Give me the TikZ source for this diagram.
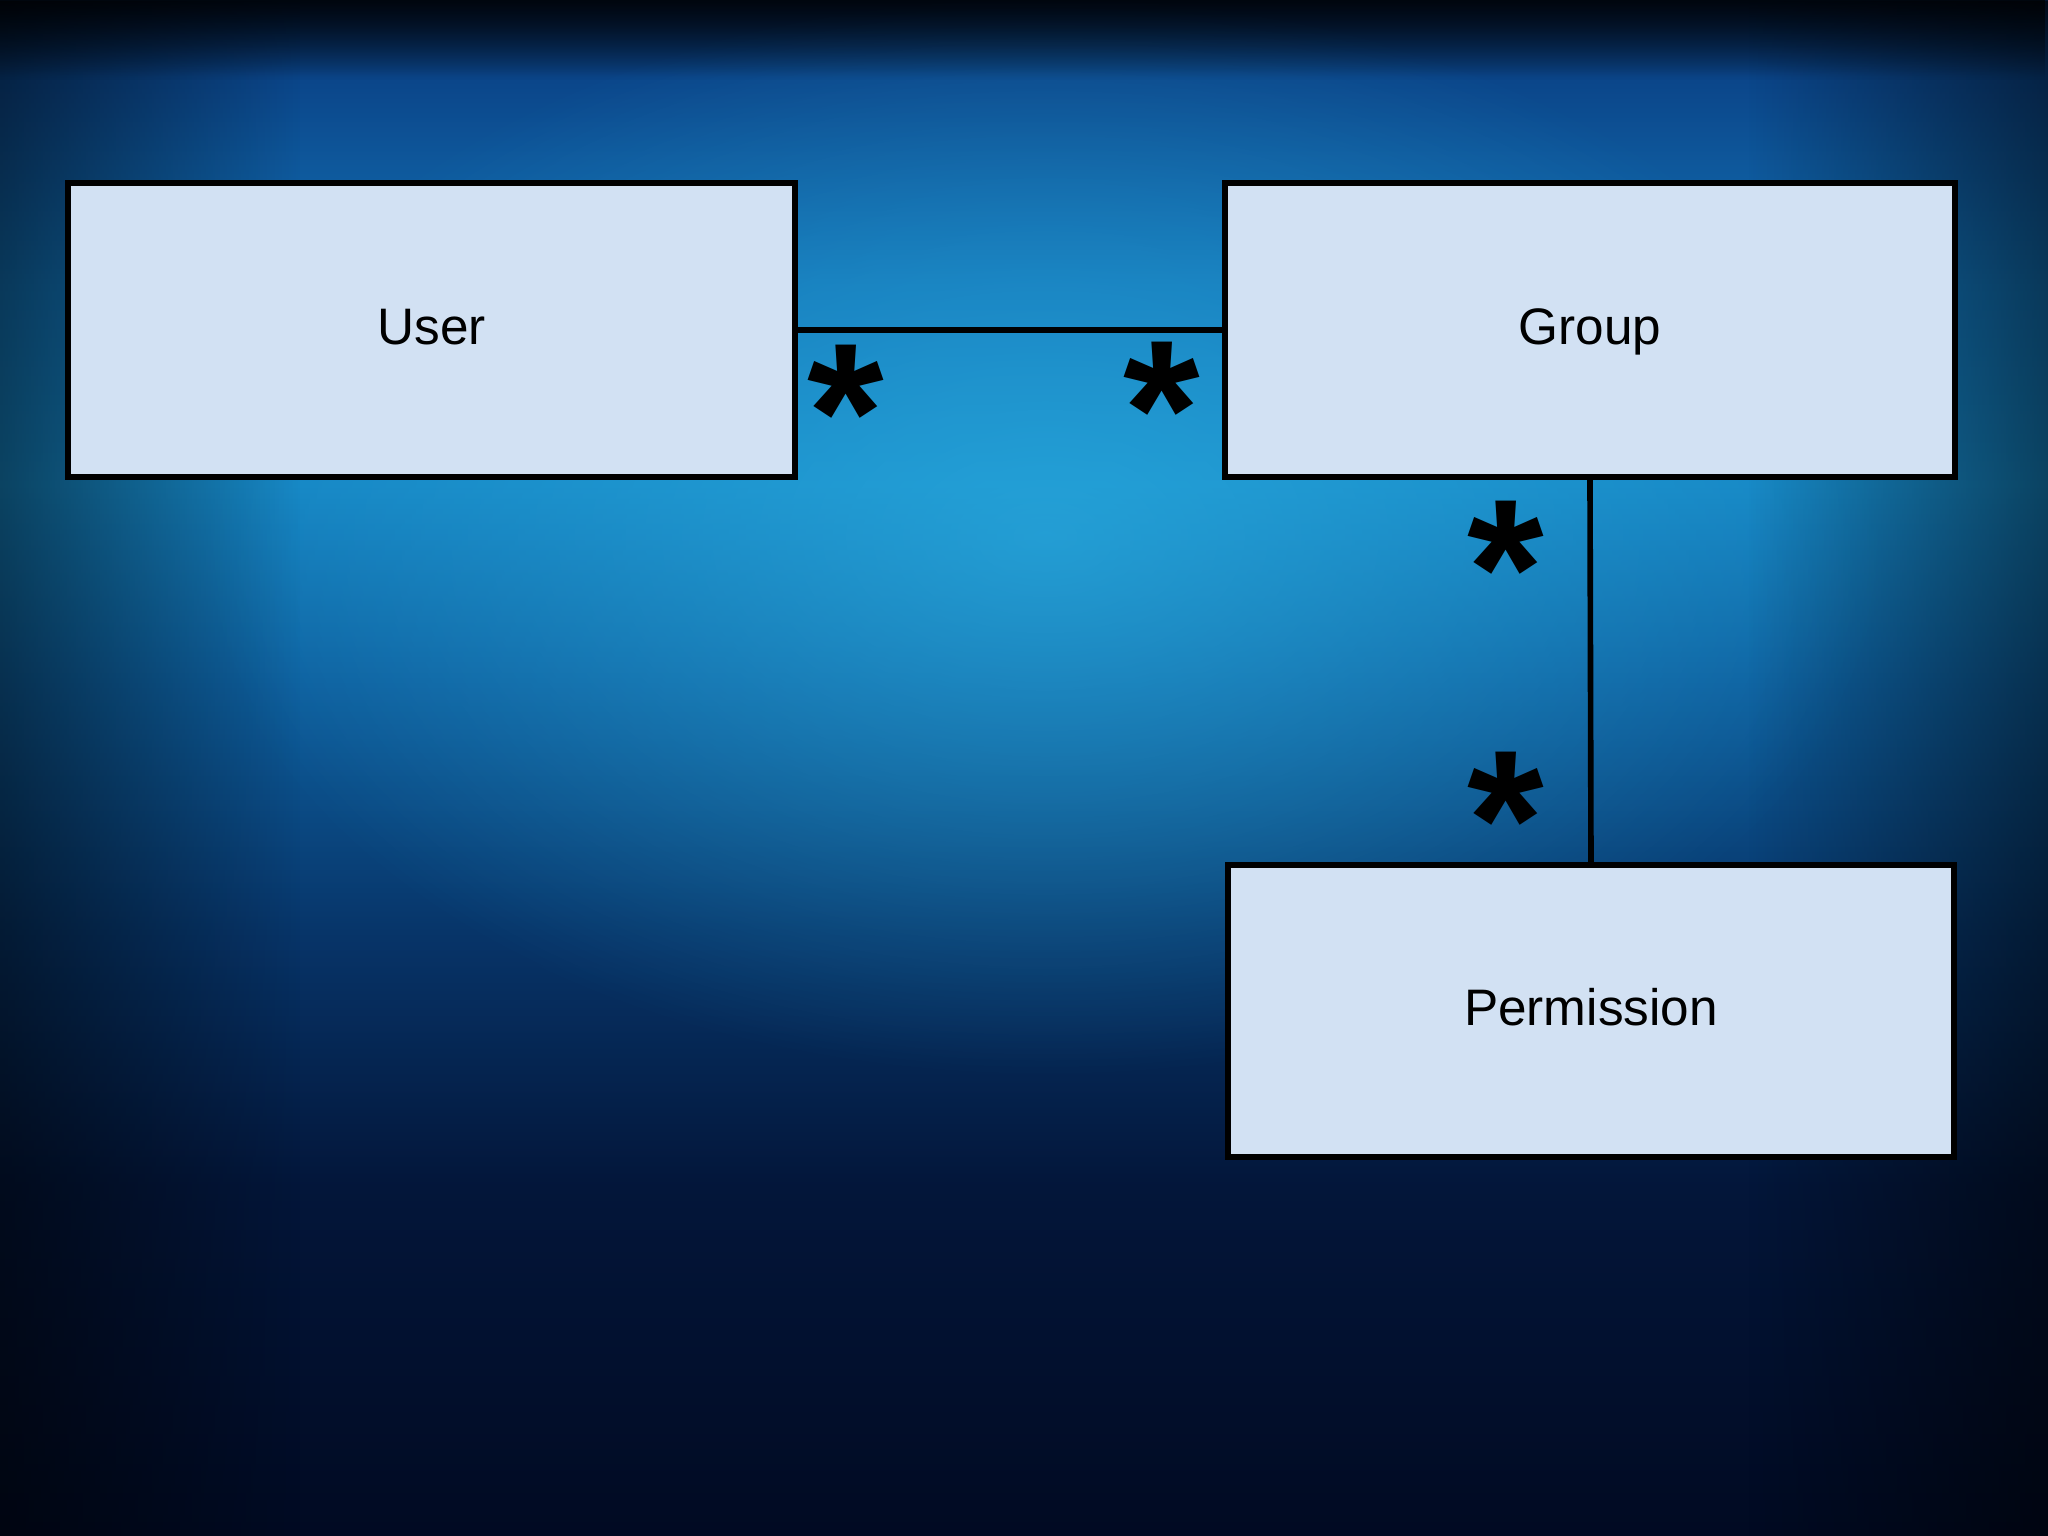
\documentclass[tikz,border=0pt]{standalone}
\usepackage{fontspec}
\setmainfont{Liberation Sans}
\usetikzlibrary{fadings}
\definecolor{boxfill}{HTML}{D2E1F3}
\definecolor{glow}{HTML}{2CB0E2}
\definecolor{seaA}{HTML}{010A22}
\definecolor{seaB}{HTML}{03163A}
\definecolor{seaC}{HTML}{073468}
\definecolor{seaD}{HTML}{0E5F9E}
\definecolor{seaE}{HTML}{1686C4}
\definecolor{seaF}{HTML}{1271B4}
\definecolor{seaG}{HTML}{0B4589}
\definecolor{seaH}{HTML}{031430}
\pgfdeclareverticalshading{seabg}{100bp}{%
  color(0bp)=(seaA);
  color(25bp)=(seaA);
  color(36.4bp)=(seaB);
  color(44.5bp)=(seaC);
  color(52.7bp)=(seaD);
  color(59.2bp)=(seaE);
  color(65.7bp)=(seaF);
  color(72.5bp)=(seaG);
  color(75bp)=(seaH);
  color(100bp)=(seaH)}
\tikzfading[name=glowfade,inner color=transparent!0,outer color=transparent!100]
\tikzfading[name=fadeleft,left color=transparent!0,right color=transparent!100]
\tikzfading[name=faderight,left color=transparent!100,right color=transparent!0]
\tikzfading[name=fadetop,top color=transparent!0,bottom color=transparent!100]
\begin{document}
\begin{tikzpicture}[x=1cm,y=1cm,every node/.style={font=\fontsize{14.6}{17}\selectfont},
  classbox/.style={draw,fill=boxfill,line width=1.6pt,text height=0.29cm,text depth=0pt},
  mult/.style={anchor=base,inner sep=0pt,font=\fontsize{56}{60}\selectfont\bfseries}]
\useasboundingbox (0,0) rectangle (20.48,15.36);
% background
\shade[shading=seabg] (0,0) rectangle (20.48,15.36);
\fill[glow,opacity=0.65,path fading=glowfade] (10.45,10.0) ellipse (8.5 and 5.4);
\fill[black,opacity=0.5,path fading=fadeleft] (0,0) rectangle (3.0,15.36);
\fill[black,opacity=0.5,path fading=faderight] (17.48,0) rectangle (20.48,15.36);
\fill[black,opacity=0.7,path fading=fadetop] (0,14.56) rectangle (20.48,15.36);
% classes
\node[classbox,minimum width=7.27cm,minimum height=2.94cm] (user) at (4.315,12.06) {User};
\node[classbox,minimum width=7.30cm,minimum height=2.94cm] (group) at (15.90,12.06) {Group};
\node[classbox,minimum width=7.26cm,minimum height=2.92cm] (perm) at (15.91,5.25) {Permission};
\draw[line width=1.6pt] (user.east) -- (group.west);
\draw[line width=1.6pt] (group.south) -- (perm.north);
% multiplicities
\node[mult] (mu) at (8.46,10.55) {*};
\node[mult] (mg) at (11.62,10.58) {*};
\node[mult] (mgp) at (15.06,8.99) {*};
\node[mult] (mp) at (15.06,6.48) {*};
\end{tikzpicture}
\end{document}
